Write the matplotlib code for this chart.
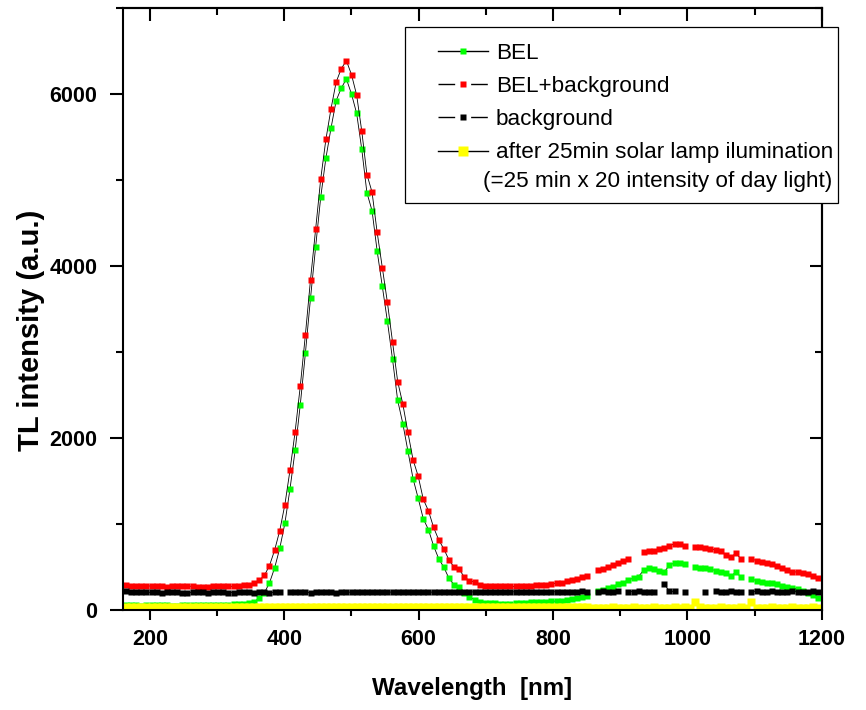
import numpy as np
import matplotlib
matplotlib.use("Agg")
from matplotlib import pyplot as plt
from matplotlib.lines import Line2D
from matplotlib.patches import Rectangle
from matplotlib.ticker import MultipleLocator

nan = np.nan

# spectrometer grid (nm): 136 channels, first channel and step
wl_start, wl_step = 164.4, 7.63
wavelength = wl_start + wl_step * np.arange(136)

# BEL (TL of the sample only)
bel = [60, 55, 52, 50, 52, 55, 57, 55, 52, 50,
       50, 52, 55, 55, 53, 52, 54, 56, 58, 60,
       62, 64, 68, 74, 82, 97, 135, 198, 314, 488,
       715, 1006, 1407, 1854, 2383, 2983, 3624, 4221, 4803, 5252,
       5602, 5920, 6067, 6172, 5997, 5772, 5354, 4850, 4642, 4171,
       3760, 3355, 2912, 2436, 2167, 1848, 1525, 1298, 1058, 934,
       745, 596, 496, 368, 291, 271, 194, 155, 116, 97,
       85, 78, 75, 72, 72, 74, 76, 80, 84, 88,
       92, 95, 97, 100, 103, 108, 116, 130, 140, 148,
       163, nan, 221, 233, 252, 271, 299, 318, 349, 368,
       388, 465, 485, 480, 455, 440, 520, 545, 540, 528,
       nan, 504, 492, 484, 473, 457, 446, 426, 395, 438,
       380, nan, 357, 341, 330, 318, 310, 299, 283, 271,
       260, 244, 225, 202, 174, 136]

# BEL + background
bel_bg = [292, 282, 276, 272, 275, 279, 276, 272, 270, 273,
          276, 279, 277, 273, 270, 268, 271, 274, 276, 274,
          272, 275, 278, 284, 291, 310, 342, 400, 515, 694,
          922, 1223, 1625, 2072, 2598, 3198, 3839, 4431, 5015, 5470,
          5827, 6136, 6293, 6385, 6222, 5985, 5565, 5062, 4858, 4389,
          3980, 3574, 3119, 2655, 2395, 2063, 1745, 1555, 1285, 1153,
          960, 815, 709, 581, 496, 473, 380, 341, 322, 291,
          283, 278, 276, 274, 272, 272, 273, 275, 277, 280,
          284, 289, 295, 304, 311, 318, 333, 349, 363, 380,
          393, nan, 465, 478, 500, 520, 545, 572, 588, nan,
          nan, 675, 680, 690, 705, 725, 748, 768, 762, 748,
          nan, 736, 729, 721, 709, 698, 686, 643, 613, 659,
          589, nan, 590, 574, 554, 543, 531, 512, 492, 465,
          446, 438, 427, 419, 395, 368]

# background
background = [215, 208, 205, 203, 204, 206, 205, 202, 203, 205,
              204, 202, 201, 203, 205, 204, 202, 203, 204, 203,
              201, 202, 204, 205, 203, 202, 203, 204, 202, 203,
              204, nan, 203, 204, 205, 203, 202, 204, 205, 204,
              203, 202, 204, 205, 206, 204, 203, 205, 206, 205,
              204, 206, 207, 205, 204, 206, 207, 208, 206, 205,
              207, 208, 209, 207, 206, 208, 209, 210, 208, 207,
              209, 210, 211, 209, 208, 210, 211, 212, 210, 209,
              211, 212, 211, 210, 212, 213, 212, 211, 213, 214,
              212, nan, 213, 214, 212, 213, 214, nan, 213, 212,
              214, 213, 212, 213, nan, 300, 215, 214, nan, 213,
              nan, nan, nan, 212, nan, 214, 213, 212, 214, 213,
              212, nan, 213, 214, 212, 213, 214, 213, 212, 213,
              214, 213, 212, 213, 214, 213]

# after 25 min solar lamp illumination
after_lamp = [32, 30, 29, 30, 31, 30, 29, 28, 30, 31,
              30, 29, 30, 32, 33, 31, 30, 29, 30, 31,
              30, 29, 30, 31, 30, 29, 30, 31, 30, 29,
              30, 31, 30, 29, 30, 31, 30, 29, 30, 31,
              30, 31, 30, 29, 30, 31, 32, 30, 29, 30,
              31, 30, 29, 30, 31, 30, 29, 30, 31, 30,
              29, 30, 31, 30, 29, 30, 31, 30, 29, 30,
              31, 30, 29, 30, 31, 30, 29, 30, 31, 30,
              29, 30, 31, 30, 29, 30, 31, 30, 29, 30,
              31, 27, 27, 26, 27, 28, 27, 26, 27, 28,
              27, 26, 27, 28, 27, 26, 27, 28, 27, 28,
              27, 90, 28, 27, 26, 27, 28, 27, 26, 27,
              28, 27, 88, 27, 26, 27, 28, 27, 26, 27,
              28, 27, 26, 27, 28, 27]

for s in (bel, bel_bg, background, after_lamp):
    assert len(s) == len(wavelength)

labels = ["BEL", "BEL+background", "background",
          "after 25min solar lamp ilumination"]
note = "(=25 min x 20 intensity of day light)"

GREEN, RED, YELLOW = "#00ff00", "#ff0000", "#ffff00"

plt.rcParams["font.family"] = ["Liberation Sans", "DejaVu Sans"]
plt.rcParams["font.weight"] = "bold"

fig = plt.figure(figsize=(8.66, 7.10), dpi=100)
ax = fig.add_axes([0.142, 0.141, 0.807, 0.848])

common = dict(color="k", lw=0.6, marker="s", mec="none")
ax.plot(wavelength, bel, ms=4.4, mfc=GREEN, **common)
ax.plot(wavelength, bel_bg, ms=4.4, mfc=RED, **common)
ax.plot(wavelength, background, ms=4.8, mfc="k", **common)
ax.plot(wavelength, after_lamp, ms=5.2, mfc=YELLOW, **common)

ax.set_xlim(160, 1200)
ax.set_ylim(0, 7000)
ax.xaxis.set_major_locator(MultipleLocator(200))
ax.xaxis.set_minor_locator(MultipleLocator(100))
ax.yaxis.set_major_locator(MultipleLocator(2000))
ax.yaxis.set_minor_locator(MultipleLocator(1000))

for sp in ax.spines.values():
    sp.set_linewidth(1.5)
ax.tick_params(which="both", direction="out", width=1.5, labelsize=15.5)
ax.tick_params(axis="x", which="major", length=7.5, pad=6)
ax.tick_params(axis="x", which="minor", length=4.5)
ax.tick_params(axis="y", which="major", length=9.5, pad=9)
ax.tick_params(axis="y", which="minor", length=5)

# inward ticks on the opposite sides
top = ax.secondary_xaxis("top")
top.xaxis.set_major_locator(MultipleLocator(200))
top.xaxis.set_minor_locator(MultipleLocator(100))
top.tick_params(which="both", direction="in", width=1.5, labeltop=False)
top.tick_params(which="major", length=9)
top.tick_params(which="minor", length=5)
right = ax.secondary_yaxis("right")
right.yaxis.set_major_locator(MultipleLocator(2000))
right.yaxis.set_minor_locator(MultipleLocator(1000))
right.tick_params(which="both", direction="in", width=1.5, labelright=False)
right.tick_params(which="major", length=9)
right.tick_params(which="minor", length=5)
for sa in (top, right):
    for sp in sa.spines.values():
        sp.set_linewidth(1.5)

ax.set_xlabel("Wavelength  [nm]", fontsize=17.4, fontweight="bold")
ax.set_ylabel("TL intensity (a.u.)", fontsize=21, fontweight="bold")
ax.xaxis.set_label_coords(0.5, -0.111)
ax.yaxis.set_label_coords(-0.112, 0.465)

# legend box, drawn over the right spine
W, H = 866, 710
fig.add_artist(Rectangle((405 / W, 1 - 203 / H), 433 / W, 176 / H,
                         transform=fig.transFigure, facecolor="white",
                         edgecolor="k", lw=0.9, zorder=4))

handles = [
    Line2D([], [], color="k", lw=1, marker="s", ms=5, mfc=GREEN, mec="none"),
    Line2D([], [], color="k", lw=1, dashes=(12, 11.5), marker="s", ms=5, mfc=RED, mec="none"),
    Line2D([], [], color="k", lw=1, dashes=(12, 11.5), marker="s", ms=4.5, mfc="k", mec="none"),
    Line2D([], [], color="k", lw=1, marker="s", ms=7.5, mfc=YELLOW, mec="none"),
]
fig.legend(handles, labels, loc="upper left", bbox_to_anchor=(438 / W, 1 - 43 / H),
           frameon=False, borderpad=0, borderaxespad=0, handlelength=2.22,
           handletextpad=0.36, labelspacing=0.54,
           prop={"family": "Liberation Sans", "weight": "normal", "size": 16.2})
fig.text(483 / W, 1 - 182 / H, note, family="Liberation Sans", fontweight="normal",
         fontsize=16.2, va="center", ha="left", zorder=6)

fig.savefig("out.png", dpi=100)
